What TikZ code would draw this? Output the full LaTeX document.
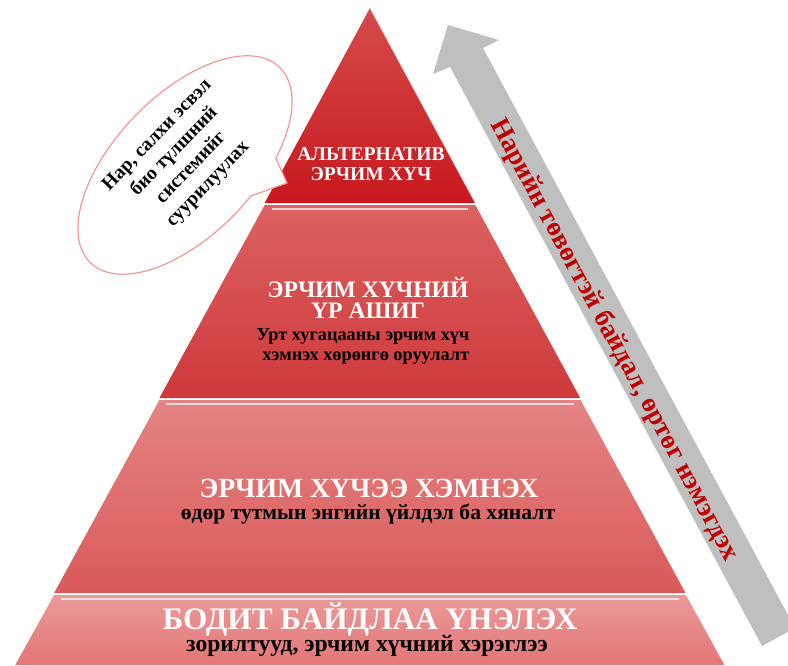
\documentclass[tikz,border=0pt]{standalone}
\usepackage{fontspec}
\setmainfont{Liberation Serif}
\definecolor{lvlOneTop}{RGB}{212,76,76}
\definecolor{lvlOne}{RGB}{200,24,30}
\definecolor{lvlTwoTop}{RGB}{220,98,98}
\definecolor{lvlTwo}{RGB}{206,56,58}
\definecolor{lvlThreeTop}{RGB}{228,132,132}
\definecolor{lvlThree}{RGB}{218,90,90}
\definecolor{lvlFourTop}{RGB}{234,154,154}
\definecolor{lvlFour}{RGB}{228,118,118}
\definecolor{bubbleLine}{RGB}{242,150,150}
\definecolor{arrowGray}{RGB}{191,191,191}
\definecolor{arrowRed}{RGB}{192,0,0}

\begin{document}
\begin{tikzpicture}[x=1pt,y=-1pt]
\tikzstyle{every node}=[font=\bfseries, inner sep=0pt]
\tikzstyle{head}=[text=white, anchor=base]
\tikzstyle{sub}=[text=black, anchor=base]
\tikzstyle{shine}=[white, opacity=0.7, line width=2pt]
\clip (0,0) rectangle (788,665);

  % pyramid levels
  \shade[top color=lvlOneTop, bottom color=lvlOne] (370,8) -- (475.3,203) -- (264.7,203) -- cycle;
  \shade[top color=lvlTwoTop, bottom color=lvlTwo] (264.7,205) -- (475.3,205) -- (580.6,398) -- (159.4,398) -- cycle;
  \shade[top color=lvlThreeTop, bottom color=lvlThree] (159.4,400) -- (580.6,400) -- (685.9,593) -- (54.1,593) -- cycle;
  \shade[top color=lvlFourTop, bottom color=lvlFour] (54.1,595) -- (685.9,595) -- (724.8,665) -- (15.2,665) -- cycle;
  \draw[shine] (272,209) -- (468,209);
  \draw[shine] (166,404) -- (574,404);
  \draw[shine] (61,599) -- (679,599);
  \draw[white, opacity=0.5, line width=1pt] (370,8) -- (724.8,665);

  \node[head, font=\bfseries\fontsize{19.6}{19.6}\selectfont] (alt) at (371,160) {АЛЬТЕРНАТИВ};
  \node[head, font=\bfseries\fontsize{19.6}{19.6}\selectfont] (altsub) at (371,180) {ЭРЧИМ ХҮЧ};

  \node[head, font=\bfseries\fontsize{23.6}{23.6}\selectfont] (effic) at (368,297) {ЭРЧИМ ХҮЧНИЙ};
  \node[head, font=\bfseries\fontsize{23.6}{23.6}\selectfont] (efficsub) at (368,318) {ҮР АШИГ};
  \node[sub, font=\bfseries\fontsize{18.3}{18.3}\selectfont] (invest) at (363,340) {Урт хугацааны эрчим хүч};
  \node[sub, font=\bfseries\fontsize{18.3}{18.3}\selectfont] (investsub) at (366,360) {хэмнэх хөрөнгө оруулалт};

  \node[head, font=\bfseries\fontsize{27.7}{27.7}\selectfont] (save) at (369,497) {ЭРЧИМ ХҮЧЭЭ ХЭМНЭХ};
  \node[sub, font=\bfseries\fontsize{21.6}{21.6}\selectfont] (savesub) at (368,519) {өдөр тутмын энгийн үйлдэл ба хяналт};

  \node[head, font=\bfseries\fontsize{31.3}{31.3}\selectfont] (real) at (370,629) {БОДИТ БАЙДЛАА ҮНЭЛЭХ};
  \node[sub, font=\bfseries\fontsize{23.6}{23.6}\selectfont] (realsub) at (367,651) {зорилтууд, эрчим хүчний хэрэглээ};

  % speech bubble
  \draw[bubbleLine, line width=1.2pt, fill=white] plot[domain=-60:280, samples=90, smooth] ({185+136*cos(\x)*0.695-70*sin(\x)*0.719}, {165-136*cos(\x)*0.719-70*sin(\x)*0.695}) -- (287,183) -- cycle;
  \node[align=center, rotate=46, font=\bfseries\fontsize{19.5}{23.5}\selectfont] (bubble) at (183,160) {Нар, салхи эсвэл\\био түлшний\\системийг\\суурилуулах};

  % arrow
  \fill[arrowGray] (448,25) -- (499,40) -- (483,48) -- (795,628) -- (762,646) -- (450,67) -- (433,74) -- cycle;
  \node[text=arrowRed, rotate=-61.7, font=\bfseries\fontsize{27}{27}\selectfont] (harder) at (614,340) {Нарийн төвөгтэй байдал, өртөг нэмэгдэх};

\end{tikzpicture}
\end{document}
